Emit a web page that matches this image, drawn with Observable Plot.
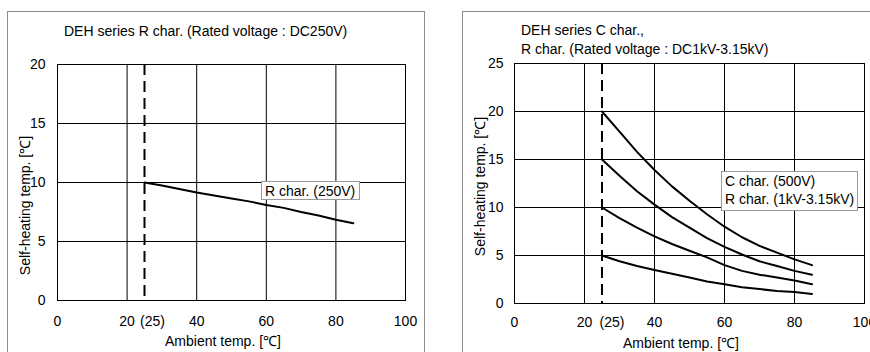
<!DOCTYPE html>
<html><head><meta charset="utf-8">
<script src="https://cdn.jsdelivr.net/npm/d3@7"></script>
<script src="https://cdn.jsdelivr.net/npm/@observablehq/plot@0.6"></script>
<style>
html,body{margin:0;padding:0;background:#fff;overflow:hidden;width:870px;height:352px;}
#wrap{position:relative;width:870px;height:352px;overflow:hidden;font-family:"Liberation Sans",Arial,sans-serif;}
.panel{position:absolute;top:0;}
.border{position:absolute;border:1px solid #8c8c8c;}
.lbl{position:absolute;background:#fff;border:1px solid #9a9a9a;font-size:14px;line-height:18px;padding:0 3px;white-space:nowrap;color:#000;box-sizing:border-box;}
</style></head><body><div id="wrap"></div>
<script>
// ---- data ----
const ambientTemp = [25, 30, 35, 40, 45, 50, 55, 60, 65, 70, 75, 80, 85];
const rChar250V   = [10, 9.75, 9.45, 9.15, 8.9, 8.65, 8.4, 8.1, 7.85, 7.5, 7.2, 6.85, 6.55];
const curve20 = [20, 17.9, 15.8, 13.9, 12.2, 10.7, 9.3, 8.0, 6.9, 6.0, 5.3, 4.6, 4.0];
const curve15 = [15, 13.3, 11.7, 10.3, 9.0, 7.9, 6.8, 5.9, 5.1, 4.4, 3.9, 3.4, 3.0];
const curve10 = [10, 8.9, 7.9, 7.0, 6.2, 5.5, 4.8, 4.0, 3.4, 3.0, 2.7, 2.4, 2.0];
const curve05 = [5, 4.4, 3.9, 3.5, 3.1, 2.7, 2.3, 2.0, 1.7, 1.5, 1.3, 1.2, 1.0];
const xTicks = [0, 20, 40, 60, 80, 100];
const yTicksLeft = [0, 5, 10, 15, 20];
const yTicksRight = [0, 5, 10, 15, 20, 25];
const ratedTemp = 25;
const leftTitle = "DEH series R char. (Rated voltage : DC250V)";
const rightTitle = "DEH series C char.,\nR char. (Rated voltage : DC1kV-3.15kV)";
const xLabel = "Ambient temp. [\u2103]";
const yLabel = "Self-heating temp. [\u2103]";

const leftRows = ambientTemp.map((t, i) => ({t, v: rChar250V[i], s: "R250"}));
const rightSeries = {c20: curve20, c15: curve15, c10: curve10, c05: curve05};
const rightRows = Object.entries(rightSeries).flatMap(([s, arr]) => ambientTemp.map((t, i) => ({t, v: arr[i], s})));

const FONT = '"Liberation Sans", Arial, sans-serif';
const wrap = document.getElementById("wrap");

function makePanel({rows, yTicks, yMax, mL, mR, mT, mB, tickPad, xPad, title, titleDy, ylDx, ylDy, d25, d25y, xlDy}) {
  return Plot.plot({
    width: 435, height: 352,
    marginLeft: mL, marginRight: mR, marginTop: mT, marginBottom: mB,
    x: {domain: [0, 100]},
    y: {domain: [0, yMax]},
    style: {fontFamily: FONT, fontSize: "14px", color: "#000", background: "transparent"},
    marks: [
      Plot.gridX([20, 40, 60, 80], {stroke: "#000", strokeOpacity: 1}),
      Plot.gridY(yTicks.filter(d => d > 0 && d < yMax), {stroke: "#000", strokeOpacity: 1}),
      Plot.frame({stroke: "#000"}),
      Plot.axisX({ticks: xTicks, tickSize: 0, tickPadding: xPad, label: null, fontSize: 14}),
      Plot.axisY({ticks: yTicks, tickSize: 0, tickPadding: tickPad, label: null, fontSize: 14}),
      Plot.ruleX([ratedTemp], {stroke: "#000", strokeWidth: 2, strokeDasharray: "11,6"}),
      Plot.line(rows, {x: "t", y: "v", z: "s", stroke: "#000", strokeWidth: 2}),
      Plot.text(["(25)"], {x: () => ratedTemp, frameAnchor: "bottom", lineAnchor: "middle", dx: d25, dy: d25y, fontSize: 14}),
      Plot.text([title], {frameAnchor: "top-left", textAnchor: "start", lineAnchor: "bottom", lineHeight: 1.3, dx: 6.5, dy: titleDy, fontSize: 14}),
      Plot.text([xLabel], {frameAnchor: "bottom", textAnchor: "middle", lineAnchor: "middle", dx: -8.5, dy: xlDy, fontSize: 14}),
      Plot.text([yLabel], {frameAnchor: "left", textAnchor: "middle", lineAnchor: "middle", rotate: -90, dx: ylDx, dy: ylDy, fontSize: 14})
    ]
  });
}

const left = makePanel({rows: leftRows, yTicks: yTicksLeft, yMax: 20, mL: 57, mR: 30, mT: 64, mB: 52, tickPad: 12, xPad: 16, title: leftTitle, titleDy: -29, ylDx: -32, ylDy: 23, d25: 8, d25y: 21.5, xlDy: 41});
const right = makePanel({rows: rightRows, yTicks: yTicksRight, yMax: 25, mL: 79, mR: 6, mT: 63, mB: 49, tickPad: 11, xPad: 14, title: rightTitle, titleDy: -10, ylDx: -34, ylDy: 3, d25: 10, d25y: 19.5, xlDy: 40.5});

function border(l, t, w, h) { const d = document.createElement("div"); d.className = "border"; Object.assign(d.style, {left: l + "px", top: t + "px", width: w + "px", height: h + "px"}); wrap.appendChild(d); }
border(7, 11, 416, 400);
border(462, 11, 500, 400);

left.classList.add("panel"); left.style.left = "0px";
right.classList.add("panel"); right.style.left = "435px";
wrap.appendChild(left); wrap.appendChild(right);

function label(html, l, t, w, h) { const d = document.createElement("div"); d.className = "lbl"; d.innerHTML = html; Object.assign(d.style, {left: l + "px", top: t + "px", width: w + "px", height: h + "px"}); wrap.appendChild(d); }
label("R char. (250V)", 261, 181, 99, 19);
label("C char. (500V)<br>R char. (1kV-3.15kV)", 721, 171, 137, 40);
</script></body></html>
